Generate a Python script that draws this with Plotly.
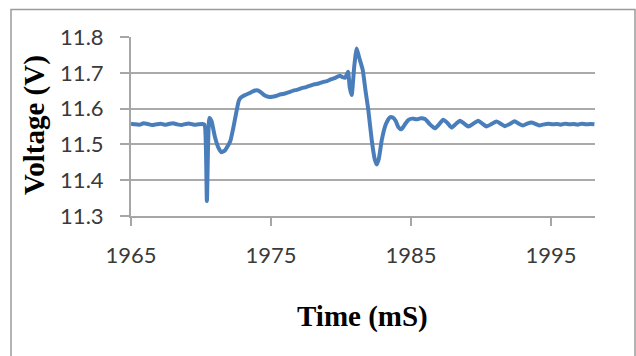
import plotly.graph_objects as go

# ---- data ----
time_ms = [1965.0, 1965.3, 1965.6, 1965.9, 1966.2, 1966.5, 1966.8, 1967.1, 1967.4, 1967.7,
           1968.0, 1968.3, 1968.6, 1968.9, 1969.2, 1969.5, 1969.8, 1970.1, 1970.25, 1970.42,
           1970.6, 1970.75, 1971.0, 1971.25, 1971.45, 1971.7, 1971.9, 1972.1, 1972.3, 1972.5,
           1972.7, 1972.85, 1973.1, 1973.4, 1973.7, 1973.95, 1974.2, 1974.5, 1974.8, 1975.1,
           1975.4, 1975.7, 1976.0, 1976.3, 1976.6, 1976.9, 1977.2, 1977.5, 1977.8, 1978.1,
           1978.4, 1978.7, 1979.0, 1979.3, 1979.6, 1979.9, 1980.1, 1980.3, 1980.5, 1980.62,
           1980.76, 1980.95, 1981.12, 1981.3, 1981.55, 1981.75, 1981.95, 1982.2, 1982.4, 1982.55,
           1982.7, 1982.91, 1983.2, 1983.5, 1983.7, 1983.9, 1984.1, 1984.3, 1984.55, 1984.8,
           1985.1, 1985.4, 1985.7, 1986.0, 1986.35, 1986.7, 1987.0, 1987.3, 1987.6, 1987.9,
           1988.2, 1988.5, 1988.8, 1989.1, 1989.45, 1989.8, 1990.1, 1990.4, 1990.75, 1991.1,
           1991.4, 1991.7, 1992.05, 1992.4, 1992.7, 1993.0, 1993.3, 1993.6, 1993.9, 1994.2,
           1994.5, 1994.8, 1995.1, 1995.4, 1995.7, 1996.0, 1996.3, 1996.6, 1996.9, 1997.2,
           1997.5, 1997.8, 1998.1]
voltage_v = [11.558, 11.556, 11.555, 11.559, 11.557, 11.554, 11.556, 11.558, 11.555, 11.557,
             11.559, 11.556, 11.554, 11.557, 11.558, 11.555, 11.556, 11.557, 11.555, 11.342,
             11.574, 11.565, 11.520, 11.490, 11.478, 11.483, 11.495, 11.510, 11.545, 11.585,
             11.622, 11.631, 11.637, 11.642, 11.648, 11.651, 11.648, 11.638, 11.633, 11.633,
             11.636, 11.640, 11.642, 11.646, 11.650, 11.653, 11.657, 11.660, 11.664, 11.668,
             11.670, 11.674, 11.677, 11.682, 11.686, 11.692, 11.688, 11.686, 11.703, 11.660,
             11.638, 11.720, 11.768, 11.742, 11.708, 11.650, 11.596, 11.510, 11.460, 11.444,
             11.460, 11.512, 11.556, 11.576, 11.575, 11.566, 11.548, 11.542, 11.555, 11.568,
             11.572, 11.570, 11.573, 11.571, 11.556, 11.545, 11.556, 11.569, 11.560, 11.547,
             11.557, 11.566, 11.558, 11.550, 11.558, 11.566, 11.558, 11.550, 11.557, 11.564,
             11.558, 11.551, 11.557, 11.565, 11.558, 11.553, 11.558, 11.561, 11.557, 11.553,
             11.556, 11.558, 11.556, 11.557, 11.555, 11.558, 11.556, 11.557, 11.555, 11.558,
             11.556, 11.557, 11.556]
x_ticks = [1965, 1975, 1985, 1995]
y_ticks = [11.3, 11.4, 11.5, 11.6, 11.7, 11.8]
x_title = "Time (mS)"
y_title = "Voltage (V)"

W, H = 636, 356
ML, MR, MT, MB = 131, 41, 37, 140
PW, PH = W - ML - MR, H - MT - MB

def px_to_paper_x(px):
    return (px - ML) / PW

def px_to_paper_y(py):
    return (H - MB - py) / PH

fig = go.Figure()
fig.add_trace(go.Scatter(x=time_ms, y=voltage_v, mode="lines",
                         line=dict(color="#4a7ebb", width=4, shape="spline", smoothing=0.5),
                         hoverinfo="skip", showlegend=False))

tick_font = dict(family="Lato", size=22, color="#3a3a3a")
fig.update_xaxes(range=[1965, 1998.14], tickmode="array", tickvals=x_ticks,
                 ticktext=[str(t) for t in x_ticks], showgrid=False, zeroline=False,
                 showline=True, linecolor="#a6a6a6", linewidth=2,
                 ticks="outside", ticklen=8, tickwidth=1.5, tickcolor="#a6a6a6",
                 tickfont=tick_font, ticklabelstandoff=11)
fig.update_yaxes(range=[11.3, 11.8], tickmode="array", tickvals=y_ticks,
                 ticktext=[f"{v:.1f}" for v in y_ticks], showgrid=True,
                 gridcolor="#aaaaaa", gridwidth=2, zeroline=False,
                 showline=True, linecolor="#a6a6a6", linewidth=2,
                 ticks="outside", ticklen=9, tickwidth=1.5, tickcolor="#a6a6a6",
                 tickfont=tick_font, ticklabelstandoff=12)

title_font = dict(family="Liberation Serif", size=29, color="#000000")
fig.add_annotation(text=f"<b>{x_title}</b>", xref="paper", yref="paper",
                   x=px_to_paper_x(362), y=px_to_paper_y(316), xanchor="center",
                   yanchor="middle", showarrow=False, font=title_font)
fig.add_annotation(text=f"<b>{y_title}</b>", xref="paper", yref="paper",
                   x=px_to_paper_x(34), y=px_to_paper_y(125), xanchor="center",
                   yanchor="middle", showarrow=False, textangle=-90, font=title_font)

# outer chart frame
fig.add_shape(type="rect", xref="paper", yref="paper",
              x0=px_to_paper_x(11), x1=px_to_paper_x(635),
              y0=px_to_paper_y(370), y1=px_to_paper_y(9.5),
              line=dict(color="#9a9a9a", width=1.5), fillcolor="rgba(0,0,0,0)", layer="below")

fig.update_layout(width=W, height=H, margin=dict(l=ML, r=MR, t=MT, b=MB),
                  paper_bgcolor="white", plot_bgcolor="white")

fig.write_html("out.html", config={"displayModeBar": False})
